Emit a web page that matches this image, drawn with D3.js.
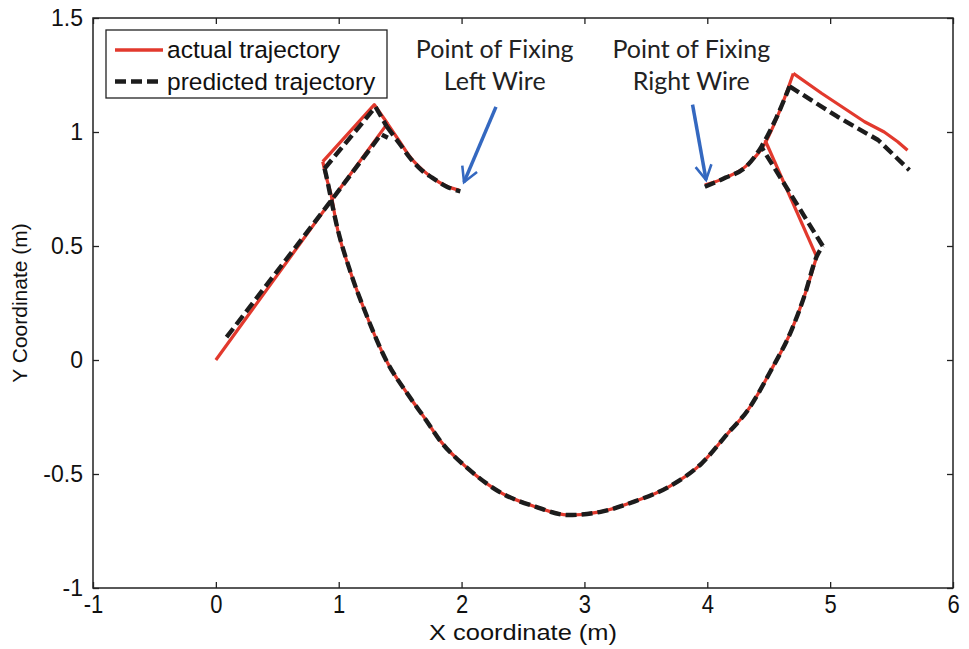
<!DOCTYPE html>
<html>
<head>
<meta charset="utf-8">
<script src="https://cdn.jsdelivr.net/npm/d3@7"></script>
<style>
  html, body { margin: 0; padding: 0; background: #fff; }
  svg { display: block; }
</style>
</head>
<body>
<svg id="chart" width="969" height="649"></svg>
<script>
// ---------- data ----------
const xTicks = [-1, 0, 1, 2, 3, 4, 5, 6];
const yTicks = [-1, -0.5, 0, 0.5, 1, 1.5];

// actual trajectory (red), pieces as [x, y]
const actualLowerLine = [[0, 0], [0.45, 0.335], [0.94, 0.70], [1.40, 1.04]];
const actualUpperLine = [[0.87, 0.87], [1.29, 1.12], [1.40, 1.035]];
const actualLeftArc = [[1.40, 1.035], [1.50, 0.955], [1.575, 0.895], [1.68, 0.835], [1.76, 0.80], [1.88, 0.762], [1.98, 0.745]];
const actualBowl = [[0.87, 0.87], [0.90, 0.80], [0.94, 0.72], [0.98, 0.60], [1.09, 0.395], [1.22, 0.205], [1.385, 0.0], [1.575, -0.16], [1.71, -0.263], [1.82, -0.35], [2.06, -0.48], [2.33, -0.585], [2.60, -0.643], [2.87, -0.68], [3.14, -0.665], [3.41, -0.62], [3.69, -0.555], [3.955, -0.453], [4.17, -0.32], [4.33, -0.22], [4.52, -0.044], [4.685, 0.13], [4.79, 0.28], [4.89, 0.453]];
const actualReturn = [[4.89, 0.453], [4.47, 0.965]];
const actualRightArc = [[3.98, 0.767], [4.15, 0.80], [4.31, 0.848], [4.47, 0.95], [4.58, 1.08], [4.70, 1.257]];
const actualRightLine = [[4.70, 1.257], [4.93, 1.17], [5.28, 1.045], [5.44, 1.0], [5.55, 0.957], [5.63, 0.92]];

// predicted trajectory (black dashed)
const predLowerLine = [[0.087, 0.10], [0.5, 0.39], [0.94, 0.70], [1.345, 0.99], [1.40, 0.975]];
const predUpperLine = [[0.885, 0.84], [1.30, 1.11], [1.39, 1.025]];
const predLeftArc = [[1.39, 1.025], [1.50, 0.945], [1.575, 0.89], [1.68, 0.83], [1.76, 0.80], [1.88, 0.76], [1.99, 0.74]];
const predBowl = [[0.885, 0.84], [0.91, 0.78], [0.94, 0.70], [0.98, 0.60], [1.09, 0.395], [1.22, 0.205], [1.385, 0.0], [1.575, -0.16], [1.71, -0.263], [1.82, -0.35], [2.06, -0.48], [2.33, -0.585], [2.60, -0.643], [2.87, -0.68], [3.14, -0.665], [3.41, -0.62], [3.69, -0.555], [3.955, -0.453], [4.17, -0.32], [4.33, -0.22], [4.52, -0.044], [4.685, 0.13], [4.79, 0.28], [4.89, 0.453], [4.94, 0.50]];
const predReturn = [[4.94, 0.50], [4.44, 0.935]];
const predRightArc = [[3.98, 0.76], [4.15, 0.80], [4.31, 0.845], [4.44, 0.935], [4.56, 1.06], [4.67, 1.20]];
const predRightLine = [[4.67, 1.20], [5.06, 1.067], [5.39, 0.965], [5.645, 0.833]];

const legendLabels = ["actual trajectory", "predicted trajectory"];
const annotations = [
  { lines: ["Point of Fixing", "Left Wire"], textX: 2.27, tail: [2.28, 1.11], tip: [2.02, 0.78] },
  { lines: ["Point of Fixing", "Right Wire"], textX: 3.87, tail: [3.88, 1.12], tip: [3.99, 0.79] }
];

// ---------- layout ----------
const svg = d3.select("#chart");
const L = 93, R = 953, T = 18, B = 588;
const x = d3.scaleLinear().domain([-1, 6]).range([L, R]);
const y = d3.scaleLinear().domain([-1, 1.5]).range([B, T]);
const axisFont = "'Liberation Sans', Arial, sans-serif";
const RED = "#e2392d", BLK = "#1c1c1c", BLUE = "#3468c0";

// frame
svg.append("rect").attr("x", L).attr("y", T).attr("width", R - L).attr("height", B - T)
  .attr("fill", "#fff").attr("stroke", "#222").attr("stroke-width", 1.5);

// axes
const fmt = d => String(d);
const gx = svg.append("g").attr("transform", `translate(0,${B})`)
  .call(d3.axisBottom(x).tickValues(xTicks).tickSize(-6).tickPadding(8).tickFormat(fmt));
const gy = svg.append("g").attr("transform", `translate(${L},0)`)
  .call(d3.axisLeft(y).tickValues(yTicks).tickSize(-6).tickPadding(10).tickFormat(fmt));
const gxt = svg.append("g").attr("transform", `translate(0,${T})`)
  .call(d3.axisTop(x).tickValues(xTicks).tickSize(-6).tickFormat(""));
const gyr = svg.append("g").attr("transform", `translate(${R},0)`)
  .call(d3.axisRight(y).tickValues(yTicks).tickSize(-6).tickFormat(""));
[gx, gy, gxt, gyr].forEach(g => {
  g.select(".domain").remove();
  g.selectAll(".tick line").attr("stroke", "#222").attr("stroke-width", 1.3);
  g.selectAll(".tick text").attr("fill", "#111").attr("font-family", axisFont).attr("font-size", 23);
});
gx.selectAll(".tick text").attr("font-size", 22).attr("transform", "scale(1,1.2)").attr("dy", "0.6em");

// axis labels
svg.append("text").attr("x", (L + R) / 2).attr("y", 640)
  .attr("text-anchor", "middle").attr("font-family", axisFont).attr("font-size", 22).attr("fill", "#111")
  .attr("textLength", 188).attr("lengthAdjust", "spacingAndGlyphs")
  .text("X coordinate (m)");
svg.append("text").attr("transform", `translate(27,${(T + B) / 2}) rotate(-90)`)
  .attr("text-anchor", "middle").attr("font-family", axisFont).attr("font-size", 21).attr("fill", "#111")
  .text("Y Coordinate (m)");

// lines
const lin = d3.line().x(d => x(d[0])).y(d => y(d[1]));
const smooth = d3.line().x(d => x(d[0])).y(d => y(d[1])).curve(d3.curveMonotoneX);
const actualPieces = [
  [actualLowerLine, lin], [actualUpperLine, lin], [actualLeftArc, smooth], [actualBowl, smooth],
  [actualReturn, lin], [actualRightArc, smooth], [actualRightLine, lin]
];
const predPieces = [
  [predLowerLine, lin], [predUpperLine, lin], [predLeftArc, smooth], [predBowl, smooth],
  [predReturn, lin], [predRightArc, smooth], [predRightLine, lin]
];
svg.append("g").selectAll("path").data(actualPieces).join("path")
  .attr("d", p => p[1](p[0])).attr("fill", "none").attr("stroke", RED).attr("stroke-width", 3.2)
  .attr("stroke-linejoin", "round");
svg.append("g").selectAll("path").data(predPieces).join("path")
  .attr("d", p => p[1](p[0])).attr("fill", "none").attr("stroke", BLK).attr("stroke-width", 4.4)
  .attr("stroke-dasharray", "11,5").attr("stroke-linejoin", "round");

// annotations
const annoFont = "Lato, 'Open Sans', sans-serif";
const marker = svg.append("defs").append("marker").attr("id", "arrow")
  .attr("viewBox", "0 0 12 12").attr("refX", 10).attr("refY", 6)
  .attr("markerWidth", 5.5).attr("markerHeight", 5.5).attr("orient", "auto").attr("markerUnits", "strokeWidth");
marker.append("path").attr("d", "M1,1 L10,6 L1,11").attr("fill", "none").attr("stroke", BLUE).attr("stroke-width", 1.6);
annotations.forEach(a => {
  const t = svg.append("text").attr("text-anchor", "middle").attr("font-family", annoFont)
    .attr("font-size", 25).attr("fill", "#222");
  a.lines.forEach((s, i) => t.append("tspan").attr("x", x(a.textX)).attr("y", 58 + i * 32).text(s));
  svg.append("line").attr("x1", x(a.tail[0])).attr("y1", y(a.tail[1]))
    .attr("x2", x(a.tip[0])).attr("y2", y(a.tip[1]))
    .attr("stroke", BLUE).attr("stroke-width", 3.5).attr("marker-end", "url(#arrow)");
});

// legend
const lg = svg.append("g");
lg.append("rect").attr("x", 106).attr("y", 30).attr("width", 281).attr("height", 68)
  .attr("fill", "#fff").attr("stroke", "#222").attr("stroke-width", 1.3);
const legendStyles = [
  { stroke: RED, width: 3.5, dash: null },
  { stroke: BLK, width: 4.4, dash: "11,5" }
];
legendLabels.forEach((lab, i) => {
  const cy = 50 + i * 31.5;
  lg.append("line").attr("x1", 115).attr("x2", 163).attr("y1", cy).attr("y2", cy)
    .attr("stroke", legendStyles[i].stroke).attr("stroke-width", legendStyles[i].width)
    .attr("stroke-dasharray", legendStyles[i].dash);
  lg.append("text").attr("x", 167).attr("y", cy + 8).attr("font-family", axisFont)
    .attr("font-size", 24.5).attr("fill", "#111").text(lab);
});
</script>
</body>
</html>
